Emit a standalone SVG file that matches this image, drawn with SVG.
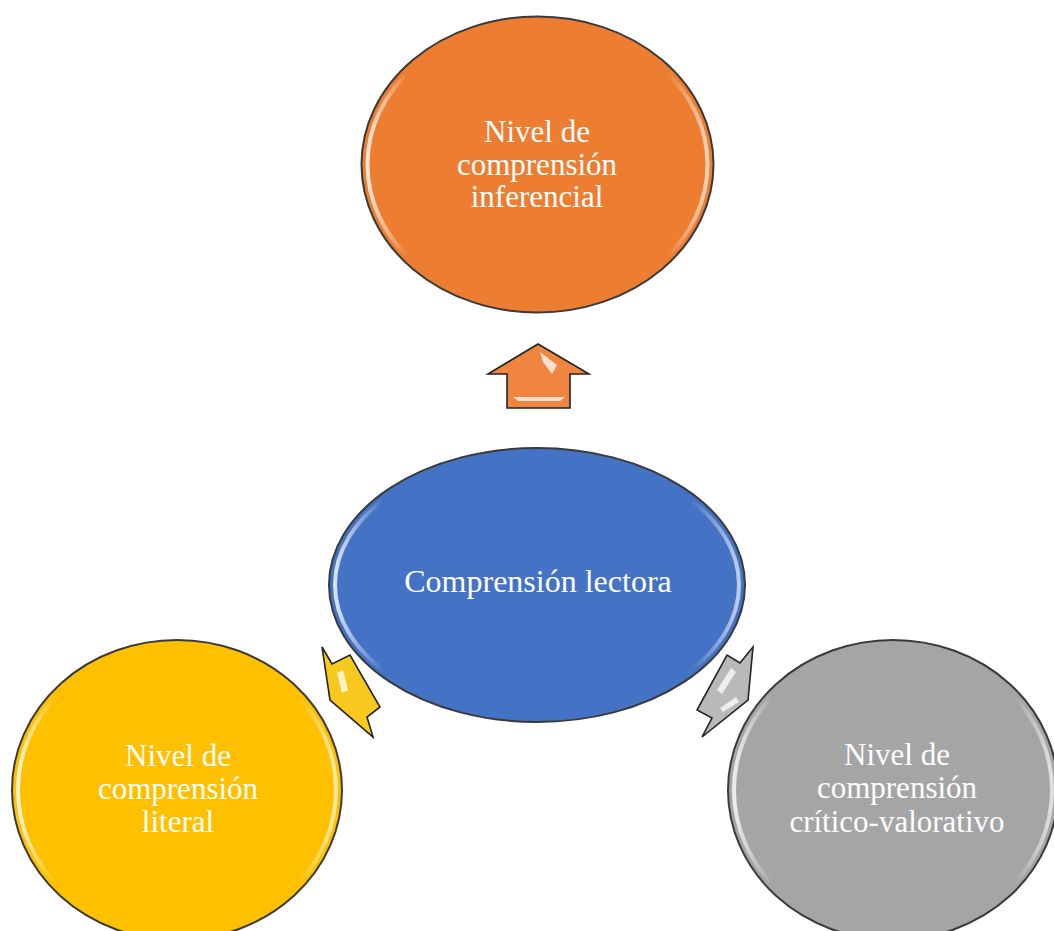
<svg xmlns="http://www.w3.org/2000/svg" width="1054" height="931" viewBox="0 0 1054 931">
<defs>
<linearGradient id="gloss" x1="0" y1="0" x2="1" y2="0">
<stop offset="0" stop-color="#fff" stop-opacity="0.8"/>
<stop offset="0.12" stop-color="#fff" stop-opacity="0"/>
<stop offset="0.88" stop-color="#fff" stop-opacity="0"/>
<stop offset="1" stop-color="#fff" stop-opacity="0.65"/>
</linearGradient>
<style>
.ring{stroke:#3a3a3a;stroke-width:2}
.gl{fill:none;stroke:url(#gloss);stroke-width:4}
.lbl{font-family:"Liberation Serif","Times New Roman",serif;font-size:31px;fill:#fff;text-anchor:middle}
.big{font-size:32px}
.arr{stroke:#222;stroke-width:1.6;stroke-linejoin:miter}
.hl{fill:#fff;opacity:0.75}
</style>
</defs>
<rect width="1054" height="931" fill="#fff"/>

<g id="connectors">
<g id="arrow-up">
<polygon class="arr" fill="#EF8540" points="538,344 488,374 507,374 507,408 570,408 570,374 589,374"/>
<polygon class="hl" points="540,352 557,365 552,374 543,362"/>
<polygon class="hl" points="513,397 565,397 560,401 518,401"/>
</g>
<g id="arrow-left">
<polygon class="arr" fill="#F7C81E" points="322,647 332,664 350,655 380,707 367,717 373,737 330,700"/>
<polygon class="hl" points="337,673 343,670 348,690 342,693"/>
</g>
<g id="arrow-right">
<polygon class="arr" fill="#B9B9B9" points="753,647 740,663 727,655 697,710 712,718 702,737 748,700"/>
<polygon class="hl" points="731,668 736,672 722,694 717,690"/>
<polygon class="hl" points="720,708 736,697 739,702 723,712"/>
</g>
</g>

<g id="node-inferencial">
<ellipse class="ring" cx="537.5" cy="164.5" rx="176" ry="148" fill="#ED7D31"/>
<ellipse class="gl" cx="537.5" cy="164.5" rx="170" ry="142"/>
<text class="lbl" x="537" y="142">Nivel de</text>
<text class="lbl" x="537" y="175">comprensión</text>
<text class="lbl" x="537" y="207">inferencial</text>
</g>

<g id="node-lectora">
<ellipse class="ring" cx="537" cy="585" rx="208" ry="137" fill="#4472C4"/>
<ellipse class="gl" cx="537" cy="585" rx="202" ry="131"/>
<text class="lbl big" x="538" y="592">Comprensión lectora</text>
</g>

<g id="node-literal">
<ellipse class="ring" cx="177" cy="790" rx="165" ry="150" fill="#FFC000"/>
<ellipse class="gl" cx="177" cy="790" rx="159" ry="144"/>
<text class="lbl" x="178" y="766">Nivel de</text>
<text class="lbl" x="178" y="799">comprensión</text>
<text class="lbl" x="178" y="832">literal</text>
</g>

<g id="node-critico">
<ellipse class="ring" cx="893" cy="790" rx="165" ry="150" fill="#A5A5A5"/>
<ellipse class="gl" cx="893" cy="790" rx="159" ry="144"/>
<text class="lbl" x="897" y="765">Nivel de</text>
<text class="lbl" x="897" y="798">comprensión</text>
<text class="lbl" x="897" y="832">crítico-valorativo</text>
</g>
</svg>
